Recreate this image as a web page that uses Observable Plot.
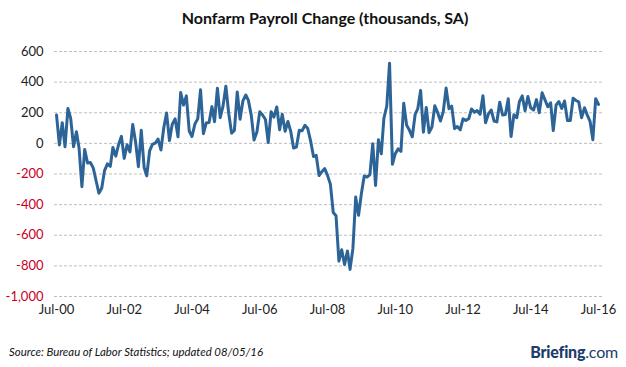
<!DOCTYPE html>
<html>
<head>
<meta charset="utf-8">
<script src="https://cdn.jsdelivr.net/npm/d3@7"></script>
<script src="https://cdn.jsdelivr.net/npm/@observablehq/plot@0.6"></script>
<style>
  html, body { margin: 0; padding: 0; background: #fff; }
  #wrap { position: relative; width: 626px; height: 367px; overflow: hidden; font-family: Lato, "Open Sans", sans-serif; }
  #title { position: absolute; left: 0; width: 650px; top: 8px; text-align: center; font-weight: bold; font-size: 16px; color: #111; }
  #chart { position: absolute; left: 0; top: 0; }
  #source { position: absolute; left: 9px; top: 345px; font-style: italic; font-size: 11.4px; color: #111; }
  #logo { position: absolute; right: 8px; top: 342px; font-size: 16px; color: #1d3c6b; letter-spacing: -0.2px; }
  #logo b { font-weight: 900; }
</style>
</head>
<body>
<div id="wrap">
  <div id="chart"></div>
  <div id="title">Nonfarm Payroll Change (thousands, SA)</div>
  <div id="source">Source: Bureau of Labor Statistics; updated 08/05/16</div>
  <div id="logo"><b>Briefing</b>.com</div>
</div>
<script>
// Monthly change in nonfarm payrolls (thousands, SA), Jul 2000 .. Jul 2016
const startYear = 2000, startMonth = 7;
const v2000 = [186, -10, 135, -22, 228, 163]; // Jul-Dec
const v2001 = [-22, 76, -30, -283, -40, -128, -125, -160, -244, -325, -292, -178];
const v2002 = [-134, -150, -27, -83, -9, 46, -98, -9, -56, 124, 8, -152];
const v2003 = [85, -158, -212, -49, -7, 2, 28, -43, 104, 198, 18, 125];
const v2004 = [160, 43, 332, 250, 310, 81, 45, 126, 160, 350, 63, 133];
const v2005 = [136, 240, 142, 360, 168, 245, 373, 195, 67, 85, 336, 158];
const v2006 = [278, 316, 281, 183, 22, 74, 206, 185, 156, 6, 207, 171];
const v2007 = [238, 89, 190, 79, 143, 77, -30, -24, 86, 83, 118, 97];
const v2008 = [15, -86, -78, -210, -185, -165, -209, -266, -452, -473, -769, -695];
const v2009 = [-791, -703, -823, -686, -351, -470, -329, -213, -220, -204, -2, -275];
const v2010 = [23, -68, 164, 243, 524, -137, -68, -36, -52, 262, 119, 87];
const v2011 = [43, 189, 225, 346, 73, 235, 70, 107, 246, 202, 146, 207];
const v2012 = [361, 226, 243, 96, 110, 88, 160, 150, 161, 225, 203, 214];
const v2013 = [190, 311, 135, 192, 218, 146, 140, 269, 185, 189, 291, 45];
const v2014 = [187, 168, 272, 310, 213, 306, 232, 218, 286, 200, 331, 286];
const v2015 = [239, 265, 84, 251, 273, 228, 277, 150, 149, 295, 280, 271];
const v2016 = [168, 233, 186, 144, 24, 292, 255]; // Jan-Jul

const values = [].concat(v2000, v2001, v2002, v2003, v2004, v2005, v2006, v2007,
  v2008, v2009, v2010, v2011, v2012, v2013, v2014, v2015, v2016);

const xTickLabels = ["Jul-00", "Jul-02", "Jul-04", "Jul-06", "Jul-08", "Jul-10", "Jul-12", "Jul-14", "Jul-16"];
const yTicks = [600, 400, 200, 0, -200, -400, -600, -800, -1000];

const data = values.map((v, i) => ({ date: new Date(Date.UTC(startYear, startMonth - 1 + i, 1)), value: v }));
const parseLabel = s => new Date(Date.UTC(2000 + +s.slice(4), 6, 1));
const xTicks = xTickLabels.map(s => ({ date: parseLabel(s), label: s }));

const fmt = d => d.toLocaleString("en-US");

const chart = Plot.plot({
  width: 626,
  height: 367,
  marginLeft: 54,
  marginRight: 24,
  marginTop: 51,
  marginBottom: 71,
  style: { fontFamily: "Lato, 'Open Sans', sans-serif", background: "transparent" },
  x: { type: "utc", domain: [parseLabel("Jul-00"), parseLabel("Jul-16")], insetLeft: 2, insetRight: 4, axis: null },
  y: { domain: [-1000, 600], axis: null },
  marks: [
    Plot.gridY(yTicks, { stroke: "#999", strokeOpacity: 0.9, strokeWidth: 0.7, strokeDasharray: "3,2" }),
    Plot.text(yTicks, { y: d => d, text: fmt, frameAnchor: "left", dx: -11, textAnchor: "end",
      fill: d => d < 0 ? "#c8001e" : "#222", fontSize: 13 }),
    Plot.text(xTicks, { x: "date", text: "label", frameAnchor: "bottom", dy: 17, fill: "#222", fontSize: 13 }),
    Plot.line(data, { x: "date", y: "value", stroke: "#2d6498", strokeWidth: 3, strokeLinejoin: "round", strokeLinecap: "round" })
  ]
});
document.getElementById("chart").appendChild(chart);
</script>
</body>
</html>
